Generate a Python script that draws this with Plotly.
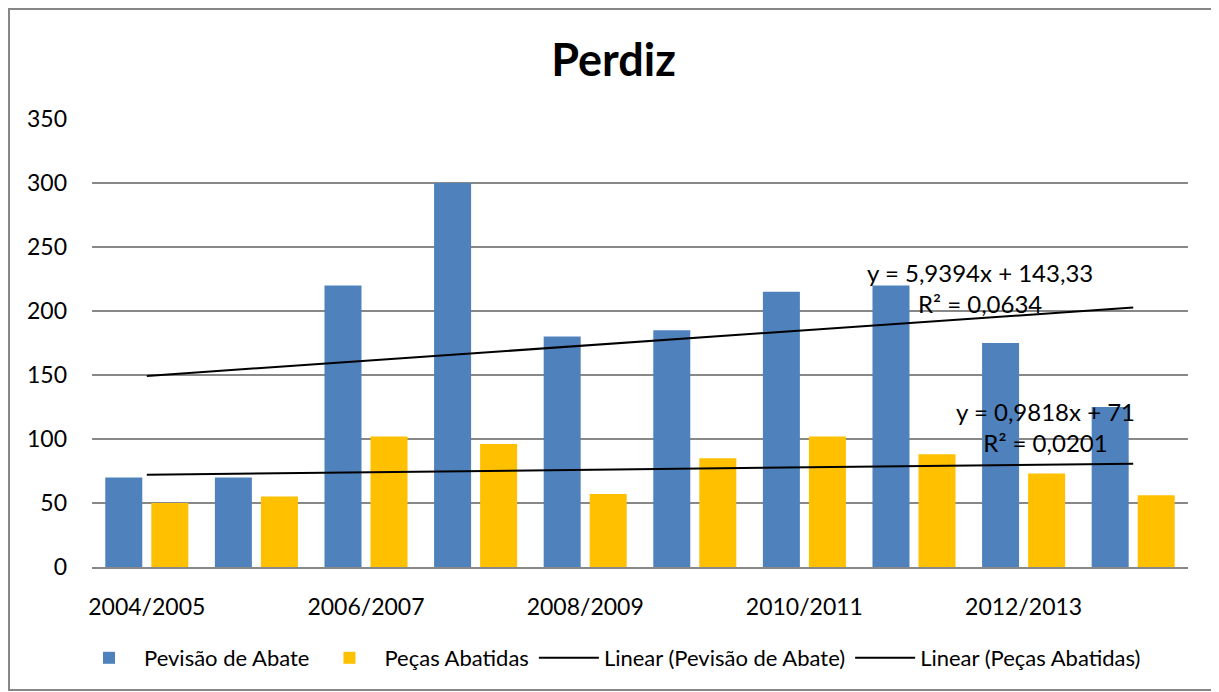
import numpy as np
import plotly.graph_objects as go

categories = ["2004/2005", "2005/2006", "2006/2007", "2007/2008", "2008/2009",
              "2009/2010", "2010/2011", "2011/2012", "2012/2013", "2013/2014"]
previsao = [70, 70, 220, 300, 180, 185, 215, 220, 175, 125]
pecas = [50, 55, 102, 96, 57, 85, 102, 88, 73, 56]
shown_ticks = ["2004/2005", "2006/2007", "2008/2009", "2010/2011", "2012/2013"]
y_ticks = [0, 50, 100, 150, 200, 250, 300, 350]
eq_prev = "y = 5,9394x + 143,33<br>R² = 0,0634"
eq_pecas = "y = 0,9818x + 71<br>R² = 0,0201"

xs = np.arange(1, len(categories) + 1)
b1, a1 = np.polyfit(xs, previsao, 1)
b2, a2 = np.polyfit(xs, pecas, 1)
trend1 = list(a1 + b1 * xs)
trend2 = list(a2 + b2 * xs)

FONT = "Lato, 'Open Sans', sans-serif"
BLUE = "#4F81BD"
GOLD = "#FFC000"

fig = go.Figure()
fig.add_trace(go.Bar(x=categories, y=previsao, name="Pevisão de Abate",
                     marker=dict(color=BLUE, line=dict(width=0))))
fig.add_trace(go.Bar(x=categories, y=pecas, name="Peças Abatidas",
                     marker=dict(color=GOLD, line=dict(width=0))))
fig.add_trace(go.Scatter(x=categories, y=trend1, mode="lines",
                         name="Linear (Pevisão de Abate)",
                         line=dict(color="black", width=2)))
fig.add_trace(go.Scatter(x=categories, y=trend2, mode="lines",
                         name="Linear (Peças Abatidas)",
                         line=dict(color="black", width=2)))

fig.add_annotation(x=7.6, y=218, xref="x", yref="y", text=eq_prev,
                   showarrow=False, align="center",
                   font=dict(family=FONT, size=24, color="black"))
fig.add_annotation(x=8.2, y=109, xref="x", yref="y", text=eq_pecas,
                   showarrow=False, align="center",
                   font=dict(family=FONT, size=24, color="black"))

# page places the figure at an 8px offset
W, H = 1211, 684
L, T = 84, 111
pw, ph = 1096, 448
R = W - L - pw
B = H - T - ph
fig.add_shape(type="rect", xref="paper", yref="paper",
              x0=(1 - L) / pw, x1=(1209 - L) / pw,
              y0=(ph + T - 682) / ph, y1=(ph + T - 1) / ph,
              line=dict(color="#878787", width=2), fillcolor="rgba(0,0,0,0)",
              layer="below")

fig.update_layout(
    width=W, height=H,
    margin=dict(l=L, r=R, t=T, b=B),
    paper_bgcolor="white", plot_bgcolor="white",
    title=dict(text="<b>Perdiz</b>", x=0.5, xanchor="center",
               y=1 - 52 / H, yanchor="middle",
               font=dict(family=FONT, size=45, color="black")),
    barmode="group", bargap=0.16, bargroupgap=0.196,
    showlegend=True,
    legend=dict(orientation="h", x=0.5 - 30 / pw, xanchor="center",
                y=-(650 - (T + ph)) / ph, yanchor="middle",
                font=dict(family=FONT, size=22, color="black"),
                itemwidth=60, tracegroupgap=0),
    font=dict(family=FONT, color="black"),
)
fig.update_xaxes(type="category", tickmode="array", tickvals=shown_ticks,
                 ticktext=shown_ticks, tickangle=0, showgrid=False,
                 showline=True, linecolor="#888888", linewidth=2,
                 ticks="", tickfont=dict(family=FONT, size=23, color="black"),
                 ticklabelstandoff=18)
fig.update_yaxes(range=[0, 350], tickmode="array", tickvals=y_ticks,
                 showgrid=True, gridcolor="#888888", gridwidth=2,
                 zeroline=False, showline=False, ticks="",
                 tickfont=dict(family=FONT, size=23, color="black"),
                 ticklabelstandoff=24)

fig.write_html("out.html")
